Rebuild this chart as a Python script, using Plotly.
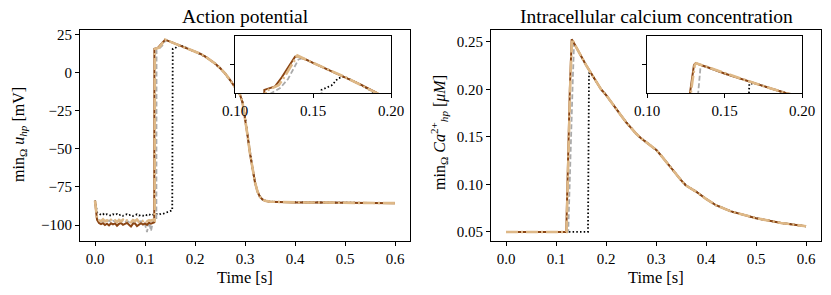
import plotly.graph_objects as go

# ---------------- data: action potential (left panel) ----------------
t_base = [0.000, 0.002, 0.004, 0.008, 0.012, 0.016, 0.020, 0.024, 0.028, 0.032, 0.036,
          0.040, 0.044, 0.048, 0.052, 0.056, 0.060, 0.064, 0.068, 0.072, 0.076, 0.080,
          0.084, 0.088, 0.092, 0.096, 0.100, 0.104, 0.108, 0.112, 0.116]

u_brown_base = [-84.0, -90.0, -96.5, -98.6, -99.4, -98.7, -99.9, -99.1, -100.2, -98.8, -99.5,
                -98.9, -100.4, -99.2, -98.6, -99.8, -99.3, -98.5, -99.7, -100.9, -99.0, -98.8,
                -100.6, -99.4, -98.7, -99.6, -98.9, -99.8, -98.4, -99.1, -98.6]
u_tan_base = [-84.0, -89.5, -95.5, -96.8, -97.4, -96.2, -97.6, -96.9, -97.9, -96.5, -97.3,
              -96.8, -98.0, -96.6, -97.5, -96.4, -97.7, -96.9, -97.2, -98.1, -96.7, -97.4,
              -96.3, -97.8, -96.9, -97.3, -96.5, -97.6, -96.8, -97.0, -96.6]
u_gray_base = [-84.0, -89.8, -95.8, -97.2, -97.8, -96.9, -98.2, -97.3, -97.0, -98.0, -97.1,
               -97.6, -98.4, -97.2, -97.7, -96.8, -98.1, -97.4, -97.9, -97.0, -98.3, -97.5,
               -97.2, -98.0, -97.4, -97.8, -99.5, -104.5, -97.6, -103.8, -97.4]
t_black_extra = [0.120, 0.124, 0.128, 0.132, 0.136, 0.140, 0.144, 0.148, 0.152, 0.1545]
u_black_base = [-84.0, -88.5, -91.5, -92.4, -93.2, -92.6, -93.5, -92.8, -93.1, -93.8, -92.9,
                -93.4, -92.7, -93.6, -93.0, -93.9, -93.3, -92.8, -93.5, -93.1, -94.0, -93.2,
                -92.9, -93.7, -93.3, -93.8, -93.0, -93.5, -92.9, -93.6, -93.2,
                -93.4, -92.8, -93.1, -92.5, -92.6, -92.0, -91.8, -91.2, -90.6, -90.3]

# upstroke of each run
t_brown_up = [0.1185, 0.1188, 0.1220, 0.1257, 0.1300, 0.1345, 0.1385, 0.1400]
u_brown_up = [-98.2, 15.6, 15.9, 16.2, 17.8, 19.6, 21.4, 21.45]
t_tan_up = [0.1194, 0.1197, 0.1230, 0.1280, 0.1320, 0.1360, 0.1400]
u_tan_up = [-97.0, 15.4, 15.8, 16.4, 18.0, 19.9, 21.6]
t_gray_up = [0.1200, 0.1228, 0.1231, 0.1289, 0.1340, 0.1407, 0.1435]
u_gray_up = [-97.5, -97.2, 15.0, 15.9, 17.5, 20.9, 21.1]
t_black_up = [0.1555, 0.1620, 0.1660]
u_black_up = [15.6, 16.4, 17.6]

# shared plateau + repolarisation
t_ap_tail = [0.145, 0.15, 0.16, 0.17, 0.18, 0.19, 0.20, 0.21, 0.22, 0.23, 0.24, 0.25, 0.26,
             0.27, 0.28, 0.29, 0.295, 0.30, 0.305, 0.31, 0.315, 0.32, 0.325, 0.33, 0.335,
             0.34, 0.35, 0.37, 0.40, 0.45, 0.50, 0.55, 0.60]
u_ap_tail = [20.95, 20.3, 19.1, 17.9, 16.6, 15.2, 13.8, 12.4, 10.6, 8.5, 6.0, 3.0, -0.5,
             -4.8, -9.5, -14.5, -19.5, -29.0, -41.0, -53.0, -63.0, -72.0, -78.0, -81.5, -83.2,
             -84.0, -84.6, -84.9, -85.1, -85.2, -85.3, -85.4, -85.6]

# ---------------- data: calcium (right panel) ----------------
t_ca_brown_head = [0.0, 0.1205, 0.1277, 0.1303, 0.1314, 0.135]
c_ca_brown_head = [0.05, 0.05, 0.200, 0.2495, 0.2525, 0.2493]
t_ca_tan_head = [0.0, 0.1210, 0.1282, 0.1308, 0.1318, 0.135]
c_ca_tan_head = [0.05, 0.05, 0.200, 0.2495, 0.2525, 0.2495]
t_ca_gray_head = [0.0, 0.1245, 0.1330, 0.1345, 0.1360]
c_ca_gray_head = [0.05, 0.05, 0.200, 0.2455, 0.2480]
t_ca_black_head = [0.0, 0.1640, 0.1660]
c_ca_black_head = [0.05, 0.05, 0.2168]

t_ca_tail = [0.14, 0.15, 0.16, 0.17, 0.18, 0.19, 0.20, 0.21, 0.22, 0.23, 0.24, 0.25, 0.26,
             0.27, 0.28, 0.29, 0.30, 0.31, 0.32, 0.33, 0.34, 0.35, 0.36, 0.38, 0.40, 0.42,
             0.45, 0.50, 0.55, 0.60]
c_ca_tail = [0.2445, 0.2345, 0.2255, 0.2170, 0.2085, 0.2000, 0.1940, 0.1865, 0.1795, 0.1725,
             0.1655, 0.1590, 0.1535, 0.1485, 0.1445, 0.1410, 0.1365, 0.1305, 0.1240, 0.1172,
             0.1105, 0.1045, 0.0988, 0.0925, 0.0848, 0.0781, 0.0716, 0.0645, 0.0595, 0.0560]

x_ticks = [0.0, 0.1, 0.2, 0.3, 0.4, 0.5, 0.6]
x_ticklabels = ["0.0", "0.1", "0.2", "0.3", "0.4", "0.5", "0.6"]
ap_ticks = [-100, -75, -50, -25, 0, 25]
ap_ticklabels = ["\u2212100", "\u221275", "\u221250", "\u221225", "0", "25"]
ca_ticks = [0.05, 0.10, 0.15, 0.20, 0.25]
ca_ticklabels = ["0.05", "0.10", "0.15", "0.20", "0.25"]
inset_ticks = [0.10, 0.15, 0.20]
inset_ticklabels = ["0.10", "0.15", "0.20"]

# ---------------- assemble series ----------------
ap_series = {
    "black": (t_base + t_black_extra + t_black_up + t_ap_tail[3:],
              u_black_base + u_black_up + u_ap_tail[3:]),
    "gray": (t_base + t_gray_up + t_ap_tail, u_gray_base + u_gray_up + u_ap_tail),
    "brown": (t_base + t_brown_up + t_ap_tail, u_brown_base + u_brown_up + u_ap_tail),
    "tan": (t_base + t_tan_up + t_ap_tail, u_tan_base + u_tan_up + u_ap_tail),
}
ca_series = {
    "black": (t_ca_black_head + t_ca_tail[3:], c_ca_black_head + c_ca_tail[3:]),
    "gray": (t_ca_gray_head + t_ca_tail, c_ca_gray_head + c_ca_tail),
    "brown": (t_ca_brown_head + t_ca_tail, c_ca_brown_head + c_ca_tail),
    "tan": (t_ca_tan_head + t_ca_tail, c_ca_tan_head + c_ca_tail),
}

styles = {
    "black": dict(color="black", width=1.8, dash="1.5px,2.2px"),
    "gray": dict(color="#aaaaaa", width=1.8, dash="5px,2.5px"),
    "brown": dict(color="#8B4513", width=2.0),
    "tan": dict(color="#DEB887", width=2.6, dash="12px,3px,2px,3px"),
}

W, H = 831, 295
FONT = "Liberation Serif"

fig = go.Figure()
for name in ["black", "gray", "brown", "tan"]:
    for (xa, ya) in [("x", "y"), ("x3", "y3")]:
        t, v = ap_series[name]
        fig.add_trace(go.Scatter(x=t, y=v, mode="lines", line=styles[name],
                                 xaxis=xa, yaxis=ya, showlegend=False, hoverinfo="skip"))
    for (xa, ya) in [("x2", "y2"), ("x4", "y4")]:
        t, v = ca_series[name]
        fig.add_trace(go.Scatter(x=t, y=v, mode="lines", line=styles[name],
                                 xaxis=xa, yaxis=ya, showlegend=False, hoverinfo="skip"))


def ax(**kw):
    base = dict(showline=True, mirror=True, linecolor="black", linewidth=1,
                ticks="outside", ticklen=4, tickwidth=1, tickcolor="black",
                showgrid=False, zeroline=False, automargin=False,
                tickfont=dict(family=FONT, size=15, color="black"))
    base.update(kw)
    return base


main_y = [1 - 241 / H, 1 - 30 / H]
ins_y = [1 - 93.3 / H, 1 - 36 / H]

fig.update_layout(
    width=W, height=H,
    margin=dict(l=0, r=0, t=0, b=0, pad=0, autoexpand=False),
    paper_bgcolor="white", plot_bgcolor="white",
    xaxis=ax(domain=[80 / W, 410 / W], anchor="y", range=[-0.03, 0.63],
             tickvals=x_ticks, ticktext=x_ticklabels),
    yaxis=ax(domain=main_y, anchor="x", range=[-110.4, 27.9],
             tickvals=ap_ticks, ticktext=ap_ticklabels),
    xaxis2=ax(domain=[491 / W, 821 / W], anchor="y2", range=[-0.03, 0.63],
              tickvals=x_ticks, ticktext=x_ticklabels),
    yaxis2=ax(domain=main_y, anchor="x2", range=[0.0405, 0.2623],
              tickvals=ca_ticks, ticktext=ca_ticklabels),
    xaxis3=ax(domain=[235 / W, 391 / W], anchor="y3", range=[0.10, 0.20],
              tickvals=inset_ticks, ticktext=inset_ticklabels),
    yaxis3=ax(domain=ins_y, anchor="x3", range=[15, 25],
              tickvals=[20], showticklabels=False),
    xaxis4=ax(domain=[647 / W, 802 / W], anchor="y4", range=[0.10, 0.20],
              tickvals=inset_ticks, ticktext=inset_ticklabels),
    yaxis4=ax(domain=ins_y, anchor="x4", range=[0.20, 0.30],
              tickvals=[0.25], showticklabels=False),
)

# opaque inset backgrounds (drawn in the inset subplot layer, above main traces)
fig.add_shape(type="rect", xref="x3", yref="y3", x0=0.10, x1=0.20, y0=15, y1=25,
              fillcolor="white", line=dict(width=0), layer="below")
fig.add_shape(type="rect", xref="x4", yref="y4", x0=0.10, x1=0.20, y0=0.20, y1=0.30,
              fillcolor="white", line=dict(width=0), layer="below")

tfont = dict(family=FONT, size=19.5, color="black")
lfont = dict(family=FONT, size=16.5, color="black")
ylfont = dict(family=FONT, size=16, color="black")
ann = [
    dict(text="Action potential", x=245 / W, y=1 - 16 / H, font=tfont),
    dict(text="Intracellular calcium concentration", x=656 / W, y=1 - 16 / H, font=tfont),
    dict(text="Time [s]", x=245 / W, y=1 - 277 / H, font=lfont),
    dict(text="Time [s]", x=656 / W, y=1 - 277 / H, font=lfont),
    dict(text="min<sub>\u03a9</sub> <i>u</i><sub><i>hp</i></sub> [mV]",
         x=19 / W, y=1 - 135 / H, textangle=-90, font=ylfont),
    dict(text="min<sub>\u03a9</sub> <i>Ca</i><sup>2+</sup><sub><i>hp</i></sub> [<i>\u03bcM</i>]",
         x=439 / W, y=1 - 133 / H, textangle=-90, font=ylfont),
]
for a in ann:
    fig.add_annotation(xref="paper", yref="paper", showarrow=False,
                       xanchor="center", yanchor="middle", **a)

fig.write_html("out.html", config={"displayModeBar": False},
               post_script="document.body.style.margin='0';document.body.style.overflow='hidden';")
